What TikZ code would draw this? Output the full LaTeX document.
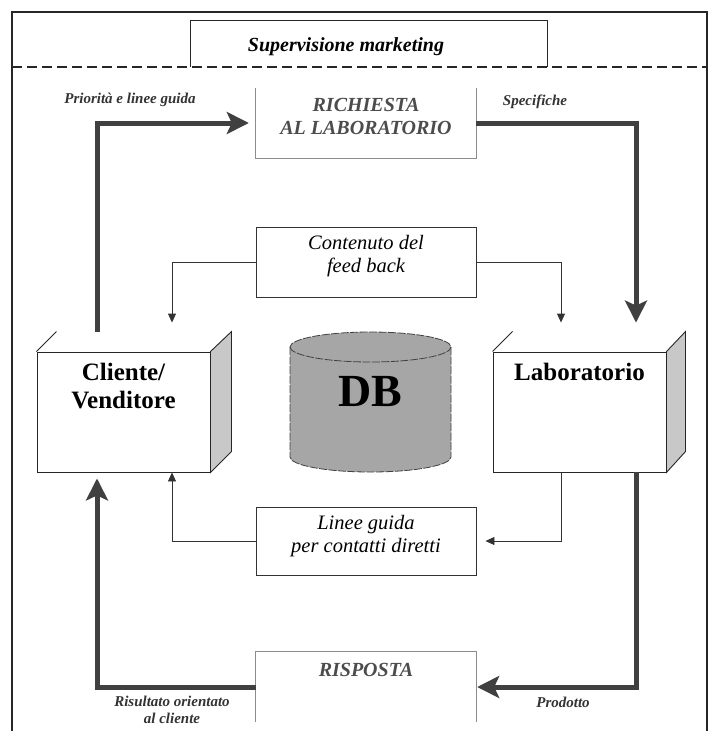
\documentclass[tikz,border=0pt]{standalone}
\usepackage{fontspec}
\setmainfont{Liberation Serif}
\usetikzlibrary{arrows.meta,positioning}
\definecolor{scuro}{HTML}{404040}
\definecolor{lato}{HTML}{C8C8C8}
\definecolor{dbgrigio}{HTML}{A6A6A6}

\begin{document}
\begin{tikzpicture}[x=1pt,y=-1pt,
		flusso/.style={line width=5pt,scuro,-{Stealth[length=22pt,width=22pt,inset=5pt]}},
		rinvio/.style={line width=0.9pt,black!80,-{Triangle[length=9pt,width=8pt]}},
		etichetta/.style={font=\fontsize{15}{17}\selectfont\bfseries\itshape,text=black!80,align=center},
		riquadro/.style={minimum width=220pt,minimum height=70pt,inner sep=0pt},
		testo/.style={font=\fontsize{20.5}{23}\selectfont\itshape,align=center},
		titolo/.style={font=\fontsize{20}{23}\selectfont\bfseries\itshape,text=black!70,align=center},
		blocco/.style={minimum width=173pt,minimum height=120pt,inner sep=0pt,draw=black!85,line width=0.9pt,fill=white},
		nome/.style={font=\fontsize{25}{28}\selectfont\bfseries,align=center}]
		\useasboundingbox (0,0) rectangle (712,731);
		% cornice e supervisione
		\draw[line width=2.2pt,black!85] (12,731) -- (12,12) -- (707,12) -- (707,731);
		\node[minimum width=356pt,minimum height=46pt,inner sep=0pt] (sup) at (369,44) {};
		\draw[line width=1.3pt,black!85] (sup.south west) |- (sup.north east) -- (sup.south east);
		\node[font=\fontsize{20}{22}\selectfont\bfseries\itshape] (suptxt) at (346,47) {Supervisione marketing};
		\draw[line width=2.5pt,black!85,dash pattern=on 10pt off 5pt] (12,67) -- (707,67);

		% riquadri centrali
		\node[riquadro] (ric) at (366,123) {};
		\draw[black!45,line width=0.9pt] (ric.north west) |- (ric.south east) -- (ric.north east);
		\node[titolo] (rictxt) at (366,116.5) {RICHIESTA\\AL LABORATORIO};
		\node[riquadro,draw=black!80,line width=0.9pt] (cont) at (366,262) {};
		\node[testo] (conttxt) at (366,256.5) {Contenuto del\\feed back};
		\node[riquadro,minimum height=68pt,draw=black!80,line width=0.9pt] (lin) at (366,541) {};
		\node[testo] (lintxt) at (366,536.5) {Linee guida\\per contatti diretti};
		\node[riquadro] (ris) at (366,687) {};
		\draw[black!45,line width=0.9pt] (ris.south west) |- (ris.north east) -- (ris.south east);
		\node[titolo] (ristxt) at (366,670) {RISPOSTA};

		% blocchi
		\node[blocco] (cli) at (123.5,412) {};
		\draw[black!85,line width=0.9pt,fill=lato] (cli.north east) -- ++(21,-20) -- ++(0,120) -- (cli.south east) -- cycle;
		\draw[black!85,line width=0.9pt] (cli.north west) -- ++(20,-20);
		\node[nome] (clitxt) at (123.5,386) {Cliente/\\Venditore};
		\node[blocco] (lab) at (579.5,412) {};
		\draw[black!85,line width=0.9pt,fill=lato] (lab.north east) -- ++(19,-20) -- ++(0,120) -- (lab.south east) -- cycle;
		\draw[black!85,line width=0.9pt] (lab.north west) -- ++(20,-20);
		\node[nome] (labtxt) at (579.5,372) {Laboratorio};

		% archivio
		\draw[black!75,line width=0.8pt,dash pattern=on 8pt off 1.5pt,fill=dbgrigio] (290,347) -- (290,457) arc[start angle=180,end angle=360,x radius=80.5pt,y radius=15pt] -- (451,347) arc[start angle=0,end angle=180,x radius=80.5pt,y radius=15pt] -- cycle;
		\draw[black!75,line width=0.8pt,dash pattern=on 8pt off 1.5pt] (290,347) arc[start angle=180,end angle=360,x radius=80.5pt,y radius=15pt];
		\node[font=\fontsize{46}{48}\selectfont\bfseries] (db) at (370,392) {DB};

		% flussi principali
		\draw[flusso] ([xshift=-26.5pt,yshift=20pt]cli.north) |- ([xshift=-7pt]ric.west);
		\draw[flusso] (ric.east) -| ([xshift=56.5pt,yshift=29pt]lab.north);
		\draw[flusso] ([xshift=56.5pt]lab.south) |- ([xshift=1pt]ris.east);
		\draw[flusso] (ris.west) -| ([xshift=-26.5pt,yshift=-6pt]cli.south);

		% rinvii
		\draw[rinvio] (cont.west) -| ([xshift=48.5pt,yshift=29pt]cli.north);
		\draw[rinvio] (cont.east) -| ([xshift=-18.5pt,yshift=29pt]lab.north);
		\draw[rinvio] ([xshift=-18.5pt]lab.south) |- ([xshift=9pt]lin.east);
		\draw[rinvio] (lin.west) -| ([xshift=48.5pt]cli.south);

		% etichette
		\node[etichetta] (priorita) at (130,100) {Priorità e linee guida};
		\node[etichetta] (spec) at (535,102) {Specifiche};
		\node[etichetta] (prod) at (563,702) {Prodotto};
		\node[etichetta] (risult) at (172,710) {Risultato orientato\\al cliente};
	\end{tikzpicture}
\end{document}
